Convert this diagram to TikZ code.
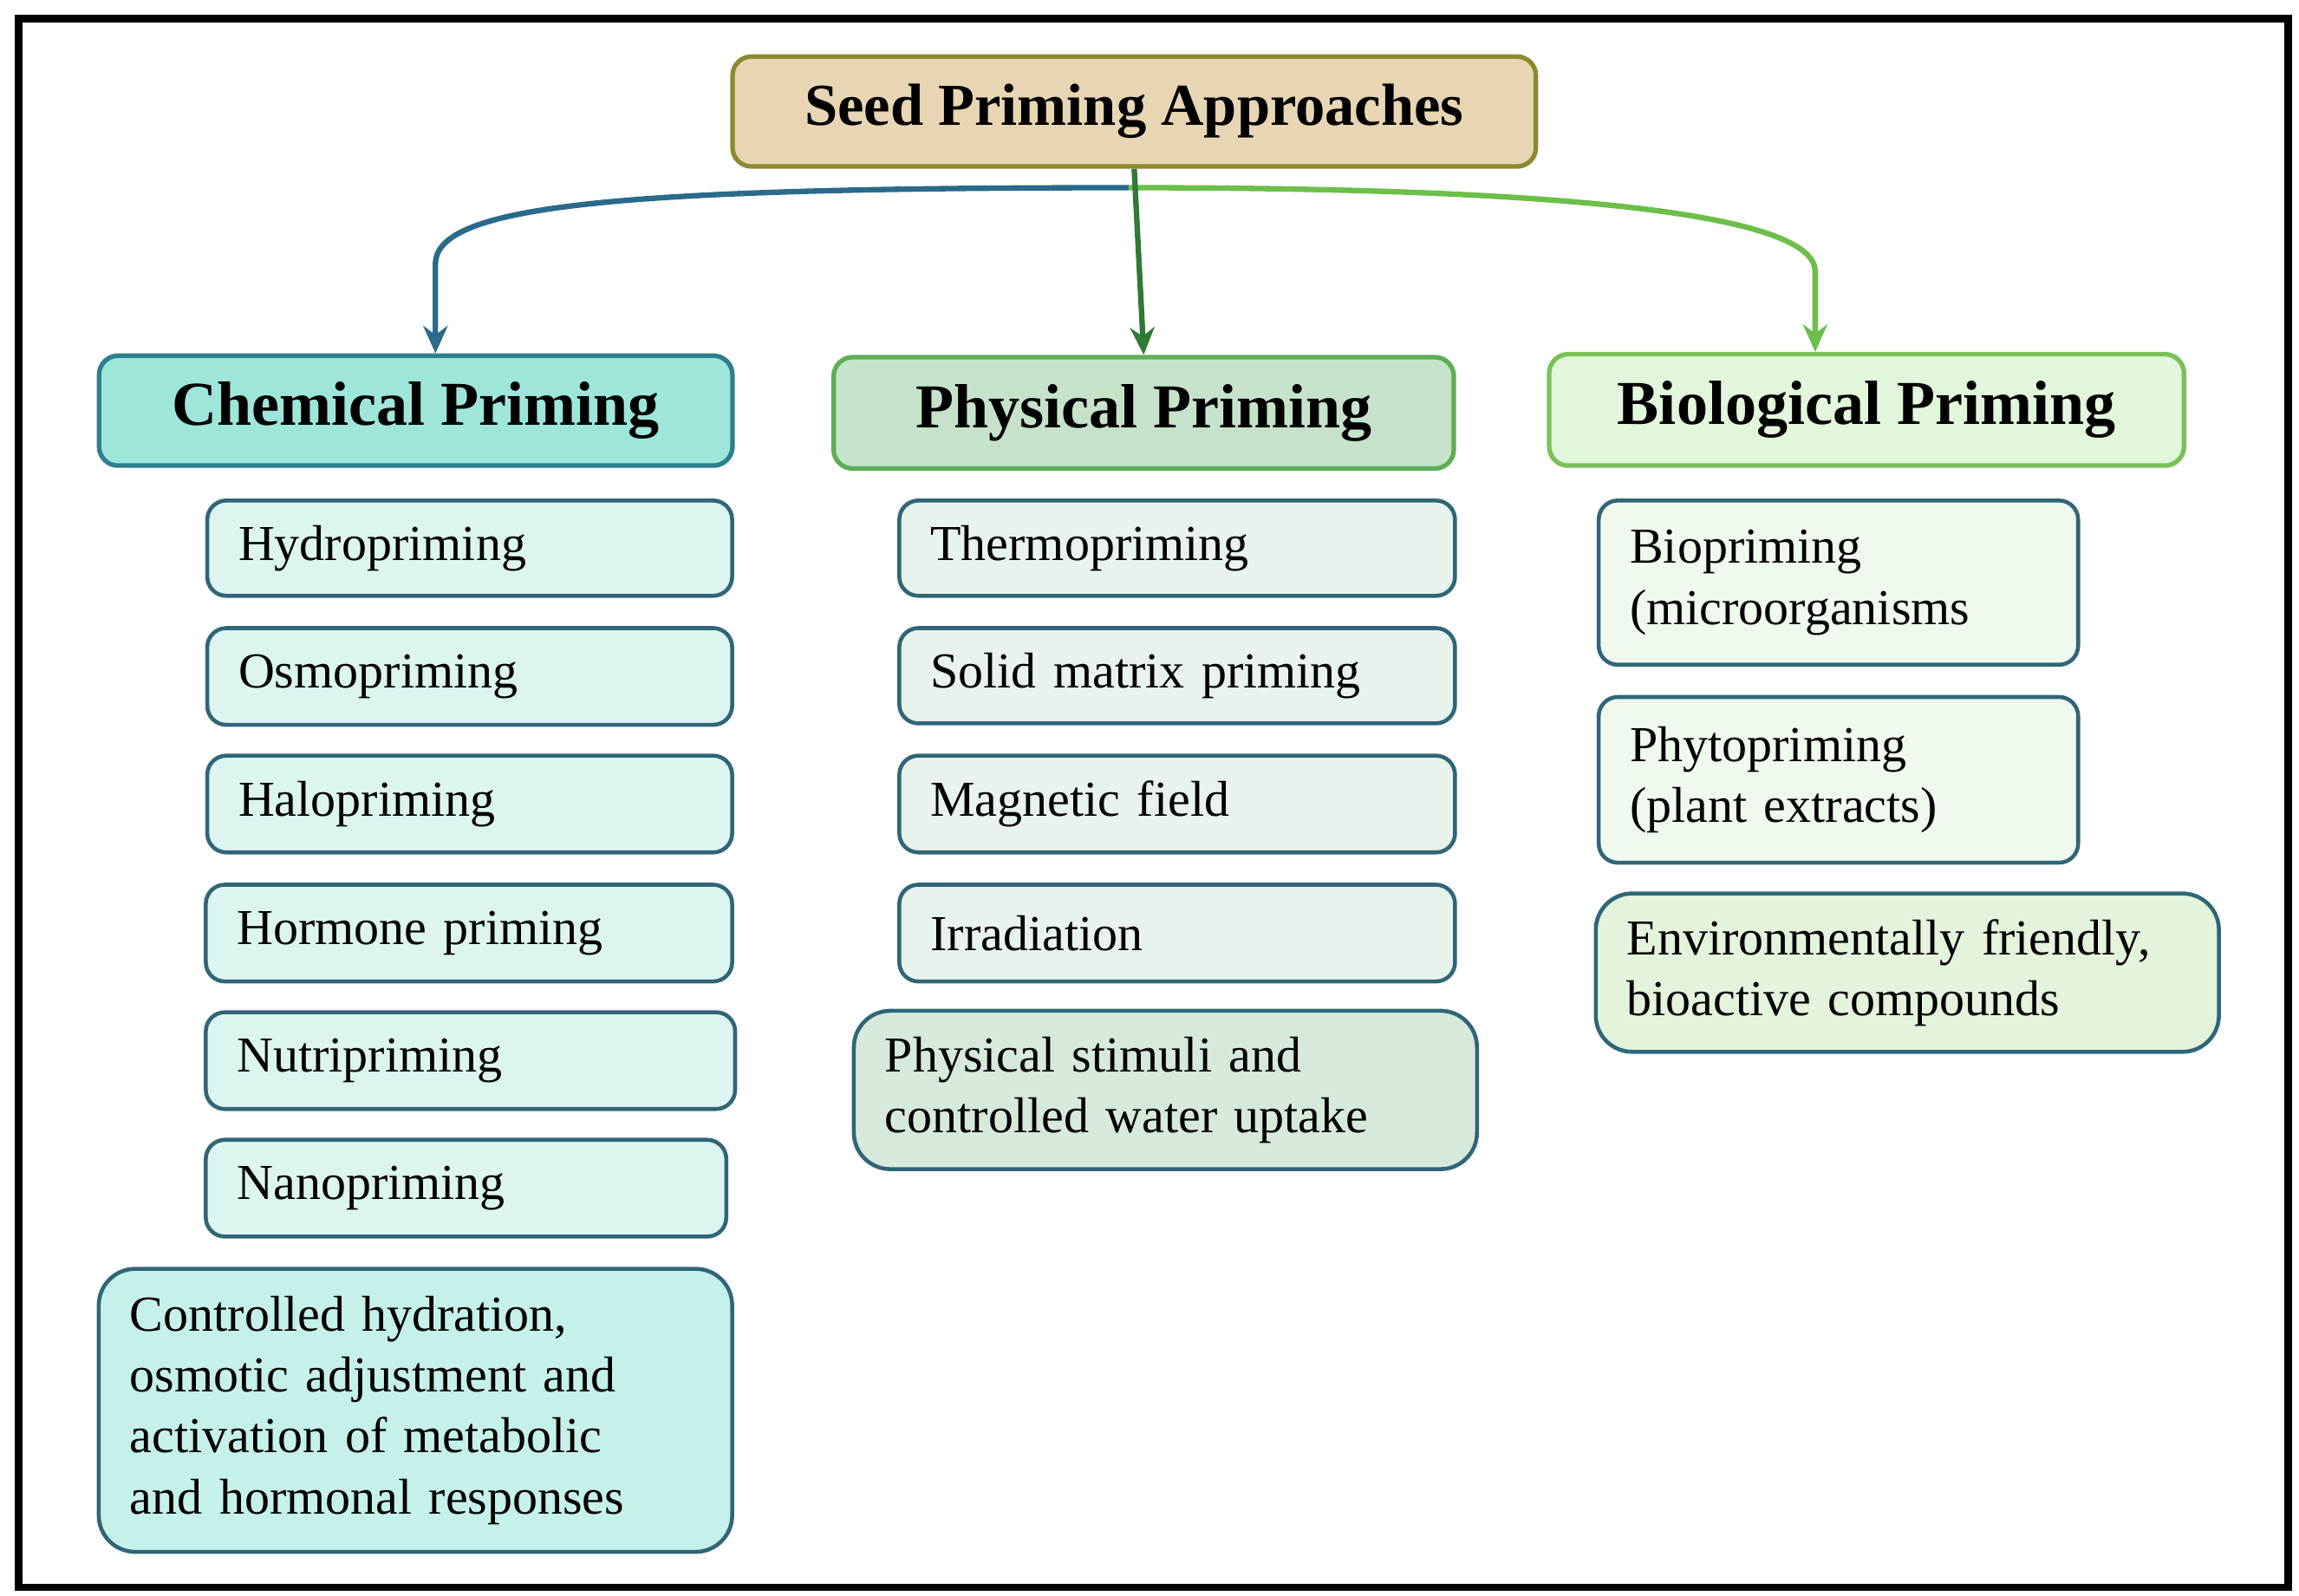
\documentclass[tikz,border=0pt]{standalone}
\usepackage{fontspec}
\setmainfont{Liberation Serif}
\usetikzlibrary{arrows.meta}
\definecolor{tfill}{HTML}{E8D5B3}\definecolor{tdraw}{HTML}{8C8A30}
\definecolor{cfill}{HTML}{9EE6D9}\definecolor{cdraw}{HTML}{2E7F8C}
\definecolor{pfill}{HTML}{C6E2CB}\definecolor{pdraw}{HTML}{5DAF55}
\definecolor{bfill}{HTML}{E1F6DA}\definecolor{bdraw}{HTML}{78C257}
\definecolor{citem}{HTML}{DDF5F1}\definecolor{csum}{HTML}{C6F0EA}
\definecolor{pitem}{HTML}{E8F3EB}\definecolor{psum}{HTML}{D6E9DB}
\definecolor{bitem}{HTML}{F0F9EE}\definecolor{bsum}{HTML}{E3F3DC}
\definecolor{idraw}{HTML}{2F6678}
\definecolor{arrblue}{HTML}{2A6A8A}\definecolor{arrdg}{HTML}{2F7A36}\definecolor{arrlg}{HTML}{6CBF4A}
\tikzset{
 box/.style={draw, line width=1.3pt, rounded corners=0.22cm, inner xsep=0.36cm, inner ysep=0pt, align=left, font=\fontsize{16.5}{20}\selectfont},
 head/.style={draw, line width=1.5pt, rounded corners=0.22cm, align=center, inner sep=0pt, font=\fontsize{20.5}{24}\selectfont\bfseries},
 sum/.style={box, rounded corners=0.42cm},
 conn/.style={line width=1.8pt, -{Stealth[length=9pt,width=8pt]}}
}
\newcommand\bbox[7]{%
 \pgfmathsetmacro\bw{(#5-#3)*0.01691}\pgfmathsetmacro\bh{(#6-#4)*0.01691}\pgfmathsetmacro\tw{(#5-#3)*0.01691-0.72}%
 \node[#2, anchor=north west, minimum width=\bw cm, minimum height=\bh cm, text width=\tw cm] (#1) at (#3,#4) {#7};}
\newcommand\hdbox[7]{%
 \pgfmathsetmacro\bw{(#5-#3)*0.01691}\pgfmathsetmacro\bh{(#6-#4)*0.01691}%
 \node[#2, anchor=north west, minimum width=\bw cm, minimum height=\bh cm] (#1) at (#3,#4) {#7};}
\begin{document}
\begin{tikzpicture}[x=0.01691cm,y=-0.01691cm]
\useasboundingbox (0,0) rectangle (1568,1088);
\node[draw, line width=2.5pt, anchor=north west, minimum width={1548*0.01691cm}, minimum height={1070*0.01691cm}, inner sep=0pt] (frame) at (10,10) {};
\hdbox{title}{head, fill=tfill, draw=tdraw, font=\fontsize{19.5}{23}\selectfont\bfseries}{498}{37}{1046}{112}{Seed Priming Approaches}
\hdbox{chem}{head, fill=cfill, draw=cdraw}{66}{241}{498}{316}{Chemical Priming}
\hdbox{phys}{head, fill=pfill, draw=pdraw}{567}{242}{990}{318}{Physical Priming}
\hdbox{bio}{head, fill=bfill, draw=bdraw}{1055}{240}{1488}{316}{Biological Priming}
\tikzset{ci/.style={box, fill=citem, draw=idraw}, pi/.style={box, fill=pitem, draw=idraw}, bi/.style={box, fill=bitem, draw=idraw}}
\bbox{c1}{ci}{140}{340}{498}{405}{Hydropriming}
\bbox{c2}{ci}{140}{427}{498}{493}{Osmopriming}
\bbox{c3}{ci}{140}{514}{498}{580}{Halopriming}
\bbox{c4}{ci}{139}{602}{498}{668}{Hormone priming}
\bbox{c5}{ci}{139}{689}{500}{755}{Nutripriming}
\bbox{c6}{ci}{139}{776}{494}{842}{Nanopriming}
\bbox{c7}{sum, fill=csum, draw=idraw}{66}{864}{498}{1057}{Controlled hydration,\\osmotic adjustment and\\activation of metabolic\\and hormonal responses}
\bbox{p1}{pi}{612}{340}{991}{405}{Thermopriming}
\bbox{p2}{pi}{612}{427}{991}{492}{Solid matrix priming}
\bbox{p3}{pi}{612}{514}{991}{580}{Magnetic field}
\bbox{p4}{pi}{612}{602}{991}{668}{Irradiation}
\bbox{p5}{sum, fill=psum, draw=idraw}{581}{688}{1006}{796}{Physical stimuli and\\controlled water uptake}
\bbox{b1}{bi}{1089}{340}{1416}{452}{Biopriming\\(microorganisms}
\bbox{b2}{bi}{1089}{474}{1416}{587}{Phytopriming\\(plant extracts)}
\bbox{b3}{sum, fill=bsum, draw=idraw}{1087}{608}{1512}{716}{Environmentally friendly,\\bioactive compounds}
\coordinate (split) at (770,128);
\coordinate (chemtop) at (297,241);
\coordinate (biotop) at (1238,240);
\draw[conn, draw=arrblue] (split) .. controls (420,128) and (297,140) .. (297,180) -- (chemtop);
\draw[conn, draw=arrlg] (split) .. controls (1100,128) and (1238,150) .. (1238,185) -- (biotop);
\draw[conn, draw=arrdg] (title.south) -- (phys.north);
\end{tikzpicture}
\end{document}
